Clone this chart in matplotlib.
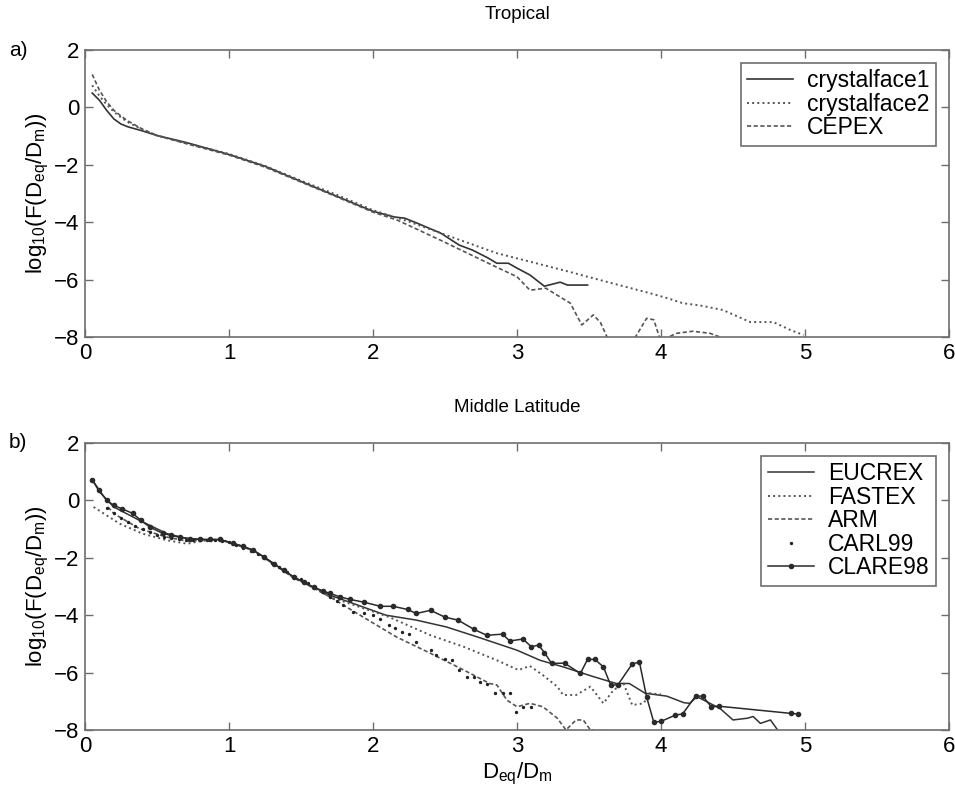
import matplotlib
matplotlib.use("Agg")
import matplotlib.pyplot as plt
import numpy as np

plt.rcParams['font.family'] = ['Liberation Sans', 'DejaVu Sans']
plt.rcParams['mathtext.default'] = 'regular'

# ---------------- Panel a: Tropical ----------------
cf1_x = [0.05, 0.10, 0.15, 0.20, 0.25, 0.30, 0.40, 0.50, 0.70, 1.00, 1.25, 1.50, 1.75, 2.00, 2.15, 2.22, 2.30,
         2.47, 2.60, 2.69, 2.80, 2.86, 2.94, 3.00, 3.09, 3.19, 3.30, 3.35, 3.49]
cf1_y = [0.50, 0.25, -0.10, -0.40, -0.58, -0.68, -0.82, -0.98, -1.22, -1.64, -2.05, -2.58, -3.10, -3.62, -3.82, -3.86, -4.02,
         -4.38, -4.80, -4.97, -5.25, -5.43, -5.43, -5.60, -5.84, -6.23, -6.09, -6.19, -6.19]

cf2_x = [0.05, 0.10, 0.15, 0.20, 0.25, 0.30, 0.40, 0.50, 0.70, 1.00, 1.25, 1.50, 1.75, 2.00, 2.25, 2.47, 2.86,
         3.32, 3.58, 3.92, 4.04, 4.15, 4.27, 4.43, 4.62, 4.78, 4.90, 4.99]
cf2_y = [0.77, 0.40, 0.10, -0.15, -0.35, -0.52, -0.78, -0.98, -1.24, -1.62, -2.04, -2.55, -3.05, -3.58, -3.98, -4.38, -5.08,
         -5.67, -6.02, -6.47, -6.64, -6.82, -6.90, -7.06, -7.48, -7.48, -7.76, -7.93]

cepex_x = [0.05, 0.10, 0.15, 0.20, 0.25, 0.30, 0.40, 0.50, 0.70, 1.00, 1.25, 1.50, 1.75, 2.00, 2.17, 2.47, 2.83,
           3.00, 3.09, 3.20, 3.37, 3.45, 3.53, 3.58, 3.63, 3.70, 3.78, 3.82, 3.90, 3.95, 3.99, 4.03, 4.11, 4.22,
           4.34, 4.42, 4.50]
cepex_y = [1.15, 0.60, 0.20, -0.10, -0.30, -0.48, -0.76, -0.98, -1.26, -1.66, -2.08, -2.60, -3.12, -3.65, -3.93, -4.63, -5.50,
           -5.90, -6.37, -6.30, -6.82, -7.58, -7.23, -7.50, -8.05, -8.40, -8.30, -8.02, -7.35, -7.40, -8.02, -8.05, -7.87, -7.80,
           -7.87, -8.02, -8.30]

# ---------------- Panel b: Middle Latitude ----------------
eucrex_x = [0.05, 0.10, 0.20, 0.38, 0.57, 0.71, 0.85, 0.94, 1.03, 1.17, 1.31, 1.45, 1.59, 1.70, 2.09, 2.30, 2.51,
            2.72, 3.00, 3.16, 3.32, 3.53, 3.69, 3.78, 3.89, 4.04, 4.16, 4.20, 4.25, 4.41, 4.50, 4.60, 4.64, 4.69,
            4.76, 4.81]
eucrex_y = [0.72, 0.30, -0.23, -0.70, -1.16, -1.33, -1.37, -1.37, -1.50, -1.74, -2.20, -2.67, -3.03, -3.30, -4.00, -4.17, -4.41,
            -4.75, -5.22, -5.57, -5.80, -6.14, -6.38, -6.38, -6.72, -6.82, -7.05, -7.07, -6.84, -7.25, -7.65, -7.59, -7.53, -7.77,
            -7.65, -8.00]

fastex_x = [0.06, 0.24, 0.40, 0.57, 0.71, 0.80, 0.89, 0.94, 1.03, 1.17, 1.31, 1.45, 1.59, 1.70, 2.11, 2.40, 2.63,
            2.86, 3.01, 3.09, 3.18, 3.28, 3.32, 3.41, 3.51, 3.60, 3.67, 3.74, 3.80, 3.88, 3.92, 4.00]
fastex_y = [-0.23, -0.81, -1.16, -1.39, -1.51, -1.42, -1.37, -1.38, -1.50, -1.75, -2.22, -2.69, -3.05, -3.36, -4.06, -4.70, -5.10,
            -5.57, -5.91, -5.77, -6.09, -6.49, -6.78, -6.78, -6.49, -7.07, -6.61, -6.38, -7.13, -7.07, -6.72, -6.76]

arm_x = [0.16, 0.20, 0.38, 0.57, 0.71, 0.85, 0.94, 1.03, 1.17, 1.31, 1.45, 1.59, 1.70, 1.93, 2.16, 2.40, 2.63,
         2.81, 2.86, 2.93, 3.00, 3.09, 3.18, 3.28, 3.34, 3.41, 3.46, 3.51, 3.55, 3.62, 3.70]
arm_y = [-0.23, -0.46, -0.99, -1.28, -1.42, -1.38, -1.38, -1.50, -1.76, -2.22, -2.70, -3.06, -3.36, -4.06, -4.75, -5.33, -5.91,
         -6.38, -6.43, -6.96, -7.19, -7.07, -7.19, -7.59, -8.00, -7.65, -7.65, -8.00, -8.02, -8.02, -8.60]

carl_x = [0.15, 0.20, 0.25, 0.30, 0.35, 0.40, 0.45, 0.50, 0.55, 0.60, 0.65, 0.70, 0.75, 0.80, 0.85, 0.90, 0.95,
          1.00, 1.05, 1.10, 1.15, 1.20, 1.25, 1.30, 1.35, 1.40, 1.45, 1.50, 1.55, 1.60, 1.65, 1.70, 1.75, 1.79,
          1.86, 1.94, 2.00, 2.05, 2.11, 2.15, 2.20, 2.25, 2.30, 2.40, 2.44, 2.50, 2.55, 2.60, 2.65, 2.70, 2.74,
          2.79, 2.85, 2.90, 2.95, 2.99, 3.04, 3.10]
carl_y = [-0.25, -0.45, -0.62, -0.75, -0.88, -1.00, -1.10, -1.20, -1.27, -1.32, -1.36, -1.38, -1.39, -1.38, -1.37, -1.37, -1.40,
          -1.46, -1.55, -1.65, -1.76, -1.88, -2.02, -2.17, -2.33, -2.48, -2.62, -2.75, -2.88, -3.00, -3.15, -3.35, -3.50, -3.65,
          -3.88, -3.94, -4.00, -4.12, -4.35, -4.46, -4.58, -4.64, -4.93, -5.22, -5.39, -5.51, -5.57, -5.91, -6.14, -6.14, -6.32,
          -6.38, -6.72, -6.72, -6.72, -7.36, -7.19, -7.19]

clare_x = [0.05, 0.10, 0.15, 0.20, 0.26, 0.33, 0.39, 0.45, 0.54, 0.60, 0.66, 0.73, 0.80, 0.87, 0.94, 1.03, 1.10,
           1.17, 1.24, 1.31, 1.38, 1.45, 1.52, 1.59, 1.65, 1.70, 1.77, 1.84, 1.94, 2.05, 2.14, 2.24, 2.30, 2.40, 2.50,
           2.59, 2.70, 2.79, 2.90, 2.95, 3.04, 3.10, 3.15, 3.19, 3.24, 3.33, 3.44, 3.49, 3.54, 3.60, 3.65, 3.70,
           3.80, 3.85, 3.90, 3.95, 4.00, 4.10, 4.15, 4.24, 4.29, 4.35, 4.40, 4.90, 4.95]
clare_y = [0.72, 0.35, 0.00, -0.17, -0.30, -0.45, -0.70, -0.93, -1.15, -1.22, -1.29, -1.33, -1.36, -1.36, -1.36, -1.50, -1.60,
           -1.74, -1.96, -2.20, -2.44, -2.67, -2.86, -3.03, -3.15, -3.24, -3.36, -3.45, -3.55, -3.69, -3.69, -3.80, -3.94, -3.83, -4.07,
           -4.17, -4.49, -4.70, -4.66, -4.90, -4.83, -5.10, -5.04, -5.30, -5.68, -5.67, -6.03, -5.54, -5.54, -5.80, -6.43, -6.43,
           -5.70, -5.63, -6.85, -7.73, -7.70, -7.48, -7.44, -6.82, -6.82, -7.20, -7.17, -7.42, -7.44]

x_ticks = [0, 1, 2, 3, 4, 5, 6]
y_ticks = [2, 0, -2, -4, -6, -8]

ylab = r'log$_{10}$(F(D$_{eq}$/D$_m$))'
frame_col = '#6e6e6e'
dark = '#333333'
mid = '#555555'

fig = plt.figure(figsize=(9.55, 7.97), dpi=100)
ax1 = fig.add_axes([85 / 955, 1 - 337 / 797, 864 / 955, 287 / 797])
ax2 = fig.add_axes([85 / 955, 1 - 730 / 797, 864 / 955, 287 / 797])

ax1.plot(cf1_x, cf1_y, '-', color=dark, lw=1.2, label='crystalface1')
ax1.plot(cf2_x, cf2_y, ':', color=mid, lw=1.4, label='crystalface2')
ax1.plot(cepex_x, cepex_y, '--', color=mid, lw=1.2, dashes=(2.5, 1.5), label='CEPEX')

ax2.plot(eucrex_x, eucrex_y, '-', color=dark, lw=1.1, label='EUCREX')
ax2.plot(fastex_x, fastex_y, ':', color=mid, lw=1.4, label='FASTEX')
ax2.plot(arm_x, arm_y, '--', color=mid, lw=1.2, dashes=(2.5, 1.5), label='ARM')
ax2.plot(carl_x, carl_y, '.', color='#222222', ms=2.8, lw=0, label='CARL99')
ax2.plot(clare_x, clare_y, '-', color='#2a2a2a', lw=1.1, marker='o', ms=3.0, label='CLARE98')

for ax, title, tag in [(ax1, 'Tropical', 'a)'), (ax2, 'Middle Latitude', 'b)')]:
    ax.set_xlim(0, 6)
    ax.set_ylim(-8, 2)
    ax.set_xticks(x_ticks)
    ax.set_yticks(y_ticks)
    ax.tick_params(direction='in', top=True, right=True, length=6, width=1,
                   color=frame_col, labelsize=16, pad=4)
    for s in ax.spines.values():
        s.set_color(frame_col)
        s.set_linewidth(1.2)
    ax.set_ylabel(ylab, fontsize=16, labelpad=2)
    ax.set_title(title, fontsize=13.5, pad=22.5)
    ax.text(-0.088, 1.0, tag, transform=ax.transAxes, fontsize=15, ha='left', va='center')
    leg = ax.legend(loc='upper right', fontsize=16.5, fancybox=False, framealpha=1,
                    edgecolor=frame_col, handlelength=2.0, borderaxespad=0.55,
                    labelspacing=0.02, handletextpad=0.6, borderpad=0.3)
    leg.get_frame().set_linewidth(1.2)

ax2.set_xlabel(r'D$_{eq}$/D$_m$', fontsize=16, labelpad=3)

fig.savefig('out.png', dpi=100)
